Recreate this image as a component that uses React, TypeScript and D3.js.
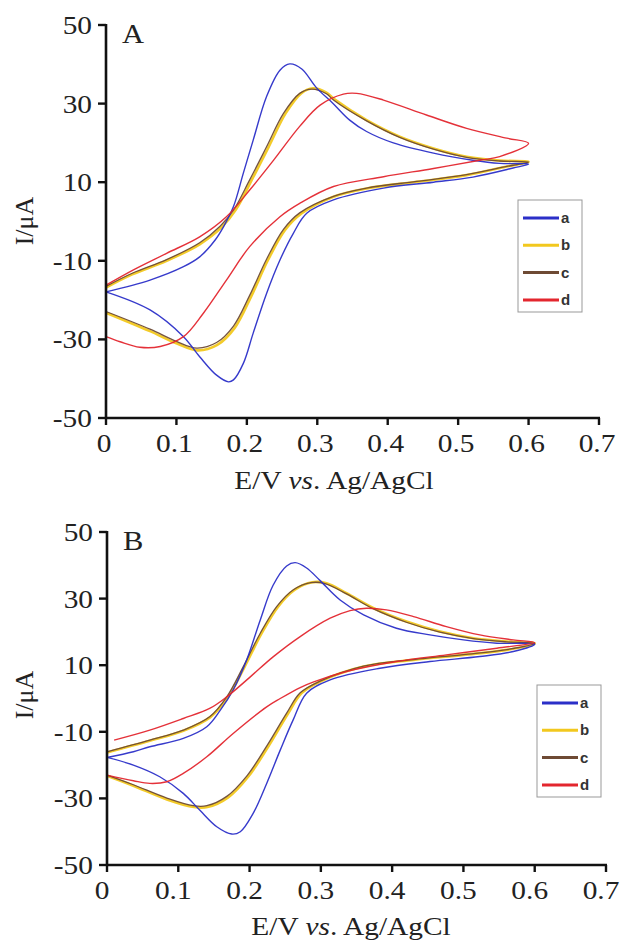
import React from "react";
import * as d3 from "d3";

// Cyclic voltammograms: each series is a closed sweep [E (V), I (µA)],
// anodic branch 0 → 0.6 V followed by the cathodic branch back to 0 V.
const seriesKeys = ["a", "b", "c", "d"];
const seriesColors = ["#2b2fc8", "#f2c81e", "#6e4a34", "#e3262e"];
const seriesWidths = [1.4, 2.6, 1.3, 1.4];

const xTicks = [0, 0.1, 0.2, 0.3, 0.4, 0.5, 0.6, 0.7];
const yTicks = [-50, -30, -10, 10, 30, 50];

const cvA_a: [number, number][] = [
  [0, -17.9], [0.0625, -14.9], [0.11, -11.5], [0.133, -9.0], [0.155, -4.7], [0.167, -1.3],
  [0.181, 3.8], [0.195, 12.3], [0.209, 20.7], [0.228, 31.8], [0.247, 38.5], [0.261, 40.1],
  [0.278, 38.8], [0.299, 34.0], [0.322, 30.1], [0.346, 25.8], [0.37, 22.9], [0.408, 20.0],
  [0.465, 17.4], [0.521, 15.6], [0.559, 14.8], [0.6, 14.6],
  [0.578, 13.6], [0.521, 11.3], [0.465, 10.0], [0.394, 8.5], [0.323, 5.5], [0.285, 2.1],
  [0.266, -3.0], [0.247, -9.8], [0.228, -18.3], [0.209, -28.4], [0.195, -36.1], [0.181, -40.3],
  [0.174, -40.8], [0.157, -39.1], [0.133, -34.4], [0.11, -29.3], [0.0625, -22.5], [0, -17.9],
];
const cvA_b: [number, number][] = [
  [0, -16.8], [0.038, -13.4], [0.086, -10.0], [0.133, -5.8], [0.164, -1.5], [0.184, 2.9],
  [0.207, 10.6], [0.231, 19.0], [0.255, 27.5], [0.277, 32.6], [0.294, 33.9], [0.313, 32.8],
  [0.325, 31.0], [0.37, 25.8], [0.417, 21.6], [0.465, 18.6], [0.512, 16.5], [0.559, 15.5],
  [0.6, 15.2],
  [0.569, 14.0], [0.512, 11.8], [0.441, 10.1], [0.37, 8.4], [0.323, 6.3], [0.278, 2.1],
  [0.254, -2.2], [0.23, -9.8], [0.206, -19.1], [0.183, -27.0], [0.158, -31.4], [0.13, -32.8],
  [0.1, -31.0], [0.0625, -27.9], [0, -23.2],
];
const cvA_c: [number, number][] = [
  [0, -16.5], [0.038, -13.1], [0.086, -9.7], [0.133, -5.4], [0.162, -1.2], [0.181, 2.9],
  [0.204, 10.6], [0.228, 19.0], [0.252, 27.5], [0.275, 32.6], [0.292, 33.7], [0.313, 32.5],
  [0.323, 30.9], [0.37, 25.6], [0.417, 21.4], [0.465, 18.4], [0.512, 16.3], [0.559, 15.4],
  [0.6, 15.1],
  [0.569, 14.0], [0.512, 11.9], [0.441, 10.2], [0.37, 8.5], [0.323, 6.4], [0.275, 2.2],
  [0.252, -2.0], [0.228, -9.6], [0.204, -18.8], [0.181, -26.6], [0.157, -30.8], [0.129, -32.2],
  [0.1, -30.5], [0.0625, -27.4], [0, -22.9],
];
const cvA_d: [number, number][] = [
  [0, -16.2], [0.039, -12.3], [0.086, -8.1], [0.133, -3.9], [0.171, 1.2], [0.204, 8.0],
  [0.238, 15.6], [0.275, 24.2], [0.304, 29.6], [0.337, 32.4], [0.356, 32.6], [0.394, 30.9],
  [0.455, 27.1], [0.512, 23.7], [0.569, 21.2], [0.6, 19.9],
  [0.559, 16.5], [0.531, 15.6], [0.465, 13.5], [0.394, 11.4], [0.323, 8.9], [0.275, 4.6],
  [0.247, 1.2], [0.204, -6.4], [0.171, -14.9], [0.138, -23.4], [0.11, -29.3], [0.077, -31.8],
  [0.048, -32.0], [0.02, -30.6], [0, -29.3],
];

const cvB_a: [number, number][] = [
  [0, -17.7], [0.037, -16.0], [0.06, -14.5], [0.107, -12.0], [0.14, -8.5], [0.159, -3.5],
  [0.177, 2.6], [0.196, 11.6], [0.215, 23.6], [0.233, 34.0], [0.252, 39.8], [0.264, 40.8],
  [0.28, 39.2], [0.299, 35.4], [0.327, 29.6], [0.36, 25.1], [0.406, 21.1], [0.453, 19.1],
  [0.5, 17.6], [0.547, 16.6], [0.6, 16.3],
  [0.57, 14.1], [0.523, 12.6], [0.453, 11.1], [0.383, 9.1], [0.313, 5.6], [0.28, 1.6],
  [0.261, -6.5], [0.243, -15.5], [0.224, -25.5], [0.205, -34.5], [0.187, -40.0], [0.175, -40.7],
  [0.154, -38.5], [0.13, -33.5], [0.107, -28.5], [0.074, -23.5], [0.037, -20.0], [0, -17.7],
];
const cvB_b: [number, number][] = [
  [0, -16.2], [0.06, -12.7], [0.107, -9.7], [0.145, -5.6], [0.17, 0.5], [0.193, 9.5],
  [0.217, 19.6], [0.24, 27.6], [0.263, 32.6], [0.288, 34.9], [0.308, 34.6], [0.336, 31.6],
  [0.374, 27.1], [0.42, 23.1], [0.467, 20.1], [0.514, 18.1], [0.561, 17.1], [0.6, 16.5],
  [0.561, 14.6], [0.5, 13.1], [0.43, 11.6], [0.36, 9.6], [0.299, 5.1], [0.273, 1.6],
  [0.254, -4.5], [0.226, -14.5], [0.198, -23.5], [0.17, -29.7], [0.141, -32.6], [0.122, -32.6],
  [0.084, -30.3], [0.037, -26.2], [0, -23.2],
];
const cvB_c: [number, number][] = [
  [0, -16.0], [0.06, -12.5], [0.107, -9.5], [0.144, -5.5], [0.168, 0.5], [0.191, 9.5],
  [0.215, 19.6], [0.238, 27.6], [0.261, 32.6], [0.286, 34.8], [0.306, 34.5], [0.336, 31.4],
  [0.374, 26.9], [0.42, 22.9], [0.467, 19.9], [0.514, 18.0], [0.561, 17.0], [0.6, 16.5],
  [0.561, 14.7], [0.5, 13.2], [0.43, 11.7], [0.36, 9.7], [0.299, 5.2], [0.271, 1.7],
  [0.252, -4.4], [0.224, -14.3], [0.196, -23.3], [0.168, -29.4], [0.14, -32.2], [0.121, -32.2],
  [0.084, -29.9], [0.037, -25.9], [0, -23.0],
];
const cvB_d: [number, number][] = [
  [0.01, -12.5], [0.06, -9.5], [0.107, -6.0], [0.144, -3.0], [0.168, 0.5], [0.201, 6.5],
  [0.233, 12.5], [0.271, 18.6], [0.313, 24.1], [0.341, 26.4], [0.364, 27.1], [0.392, 26.6],
  [0.43, 24.6], [0.476, 21.6], [0.523, 19.1], [0.57, 17.6], [0.6, 16.8],
  [0.547, 15.1], [0.476, 13.1], [0.406, 11.1], [0.336, 8.1], [0.29, 5.0], [0.271, 3.3],
  [0.243, 0.0], [0.224, -2.5], [0.177, -10.5], [0.14, -17.5], [0.107, -22.5], [0.084, -25.0],
  [0.06, -25.5], [0.037, -24.7], [0, -23.0],
];

type PanelSpec = {
  label: string;
  curves: [number, number][][];
  x0: number; x1: number; yTop: number; yBot: number;
  tickShift: number;
  legendX: number; legendY: number;
  xTitleY: number; xTitleX: number; yTitleY: number;
};

const panels: PanelSpec[] = [
  {
    label: "A", curves: [cvA_a, cvA_b, cvA_c, cvA_d],
    x0: 106, x1: 599, yTop: 25, yBot: 418, tickShift: -2,
    legendX: 518, legendY: 200, xTitleY: 489, xTitleX: 334, yTitleY: 221,
  },
  {
    label: "B", curves: [cvB_a, cvB_b, cvB_c, cvB_d],
    x0: 107, x1: 606, yTop: 532, yBot: 865, tickShift: -5,
    legendX: 537, legendY: 685, xTitleY: 935, xTitleX: 351, yTitleY: 695,
  },
];

const serif = "'Liberation Serif', 'Times New Roman', serif";
const sans = "'Liberation Sans', Arial, sans-serif";
const STRETCH = 1.13; // serif lettering is set slightly wide

function SerifText({ x, y, anchor = "start", size = 26, children }: {
  x: number; y: number; anchor?: string; size?: number; children: React.ReactNode;
}) {
  return (
    <text
      transform={`translate(${x},${y}) scale(${STRETCH},1)`}
      textAnchor={anchor}
      fontFamily={serif}
      fontSize={size}
      fill="#222"
    >
      {children}
    </text>
  );
}

function Panel({ p }: { p: PanelSpec }) {
  const x = d3.scaleLinear().domain([0, 0.7]).range([p.x0, p.x1]);
  const y = d3.scaleLinear().domain([-50, 50]).range([p.yBot, p.yTop]);
  const line = d3
    .line<[number, number]>()
    .x((d) => x(d[0]))
    .y((d) => y(d[1]))
    .curve(d3.curveCatmullRom.alpha(0.5));
  const fmt = (v: number) => (v === 0 ? "0" : d3.format(".1f")(v));
  const drawOrder = [1, 2, 0, 3];
  return (
    <g>
      {drawOrder.map((i) => (
        <path
          key={i}
          d={line(p.curves[i]) ?? ""}
          fill="none"
          stroke={seriesColors[i]}
          strokeWidth={seriesWidths[i]}
          strokeLinejoin="round"
          opacity={0.95}
        />
      ))}
      {/* axes */}
      <line x1={p.x0} x2={p.x1 + 1} y1={p.yBot} y2={p.yBot} stroke="#111" strokeWidth={2.6} />
      <line x1={p.x0} x2={p.x0} y1={p.yTop - 1} y2={p.yBot + 1} stroke="#111" strokeWidth={2.6} />
      {xTicks.map((t) => (
        <g key={"x" + t}>
          <line x1={x(t)} x2={x(t)} y1={p.yBot} y2={p.yBot + 7} stroke="#111" strokeWidth={2.4} />
          <SerifText x={x(t) + p.tickShift} y={p.yBot + 34} anchor="middle">
            {fmt(t)}
          </SerifText>
        </g>
      ))}
      {yTicks.map((t) => (
        <g key={"y" + t}>
          <line x1={p.x0 - 8} x2={p.x0} y1={y(t)} y2={y(t)} stroke="#111" strokeWidth={2.4} />
          <SerifText x={p.x0 - 14} y={y(t) + 9} anchor="end">
            {t}
          </SerifText>
        </g>
      ))}
      <SerifText x={p.x0 + 16} y={p.yTop + 18} size={27}>
        {p.label}
      </SerifText>
      <SerifText x={p.xTitleX} y={p.xTitleY} anchor="middle">
        E/V <tspan fontStyle="italic">vs</tspan>. Ag/AgCl
      </SerifText>
      <text
        transform={`translate(33,${p.yTitleY}) rotate(-90)`}
        textAnchor="middle"
        fontFamily={serif}
        fontSize={26}
        fill="#222"
      >
        I/μA
      </text>
      {/* legend */}
      <rect x={p.legendX} y={p.legendY} width={64} height={112} fill="#fff" stroke="#999" strokeWidth={1} />
      {seriesKeys.map((k, i) => {
        const ly = p.legendY + 18 + i * 27.3;
        return (
          <g key={k}>
            <line x1={p.legendX + 5} x2={p.legendX + 41} y1={ly} y2={ly} stroke={seriesColors[i]} strokeWidth={3} />
            <text x={p.legendX + 43} y={ly + 5} fontFamily={sans} fontSize={15} fontWeight="bold" fill="#333">
              {k}
            </text>
          </g>
        );
      })}
    </g>
  );
}

export default function App() {
  return (
    <svg
      width={620}
      height={941}
      viewBox="0 0 620 941"
      style={{ position: "absolute", left: 0, top: 0, background: "#fff" }}
    >
      <rect width={620} height={941} fill="#fff" />
      {panels.map((p) => (
        <Panel key={p.label} p={p} />
      ))}
    </svg>
  );
}
